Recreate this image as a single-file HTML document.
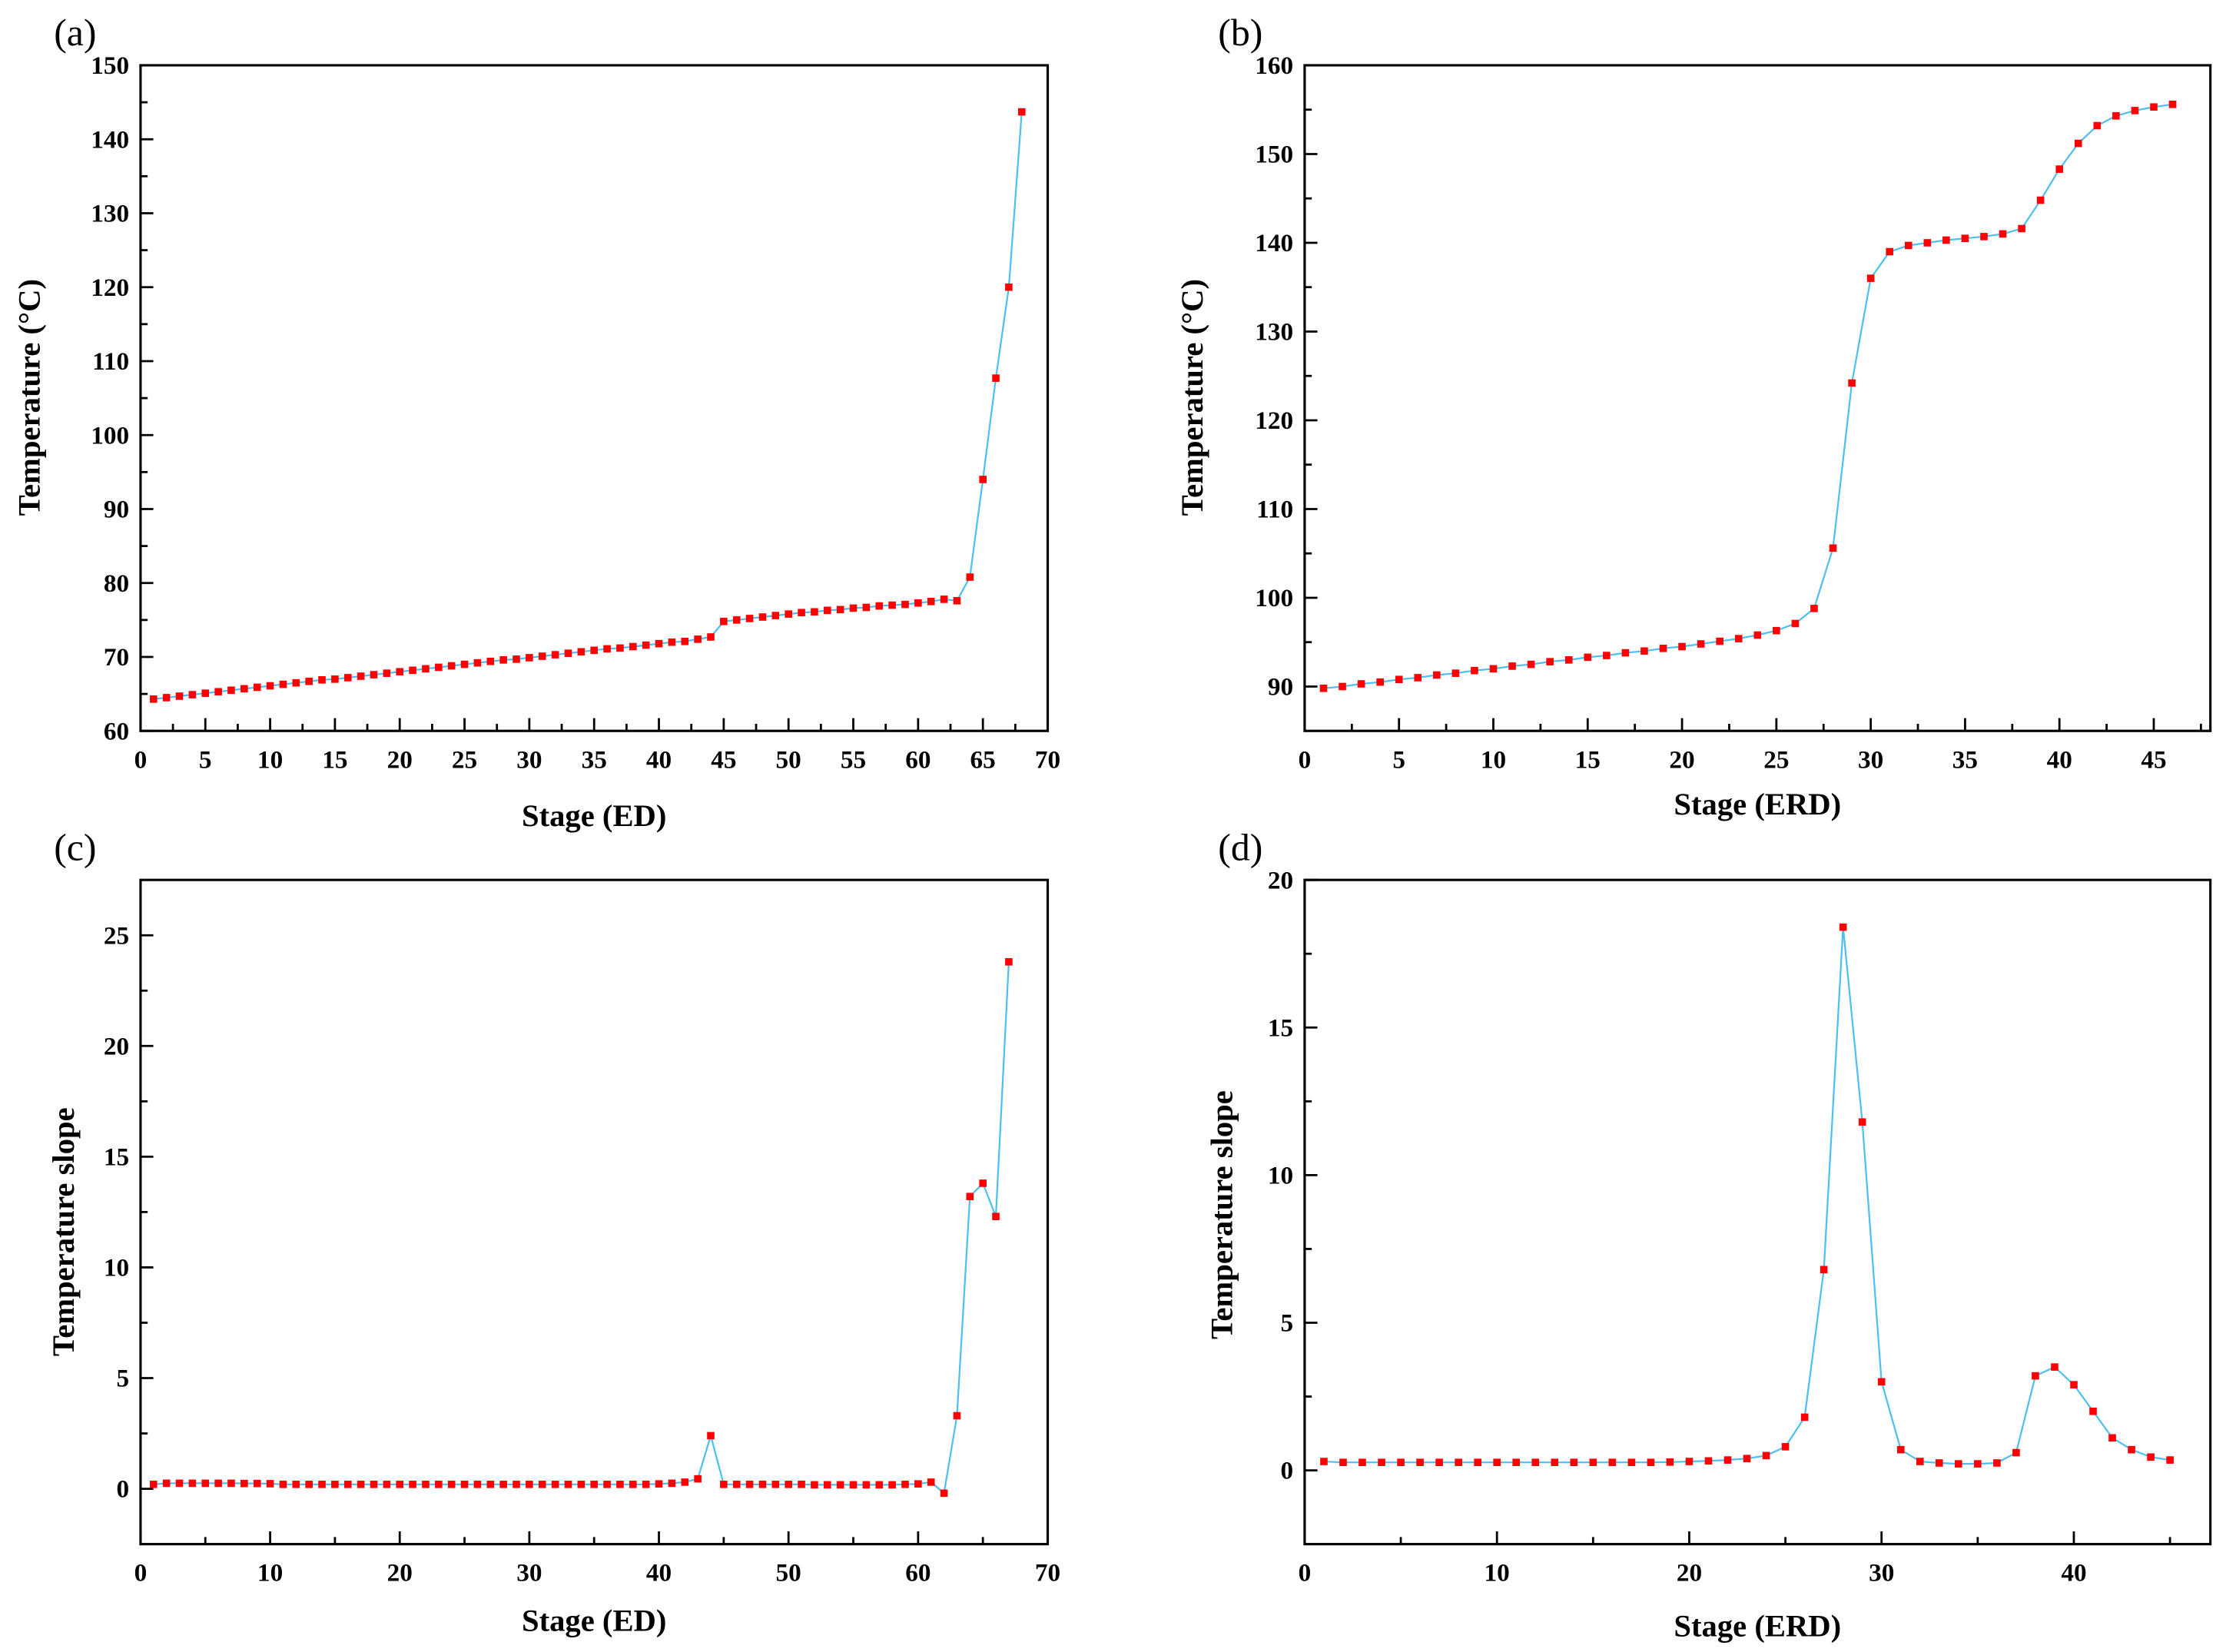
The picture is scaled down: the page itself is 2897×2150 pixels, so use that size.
<!DOCTYPE html>
<html><head><meta charset="utf-8"><style>
html,body{margin:0;padding:0;background:#fff;}
svg{display:block;font-family:"Liberation Serif",serif;}
</style></head><body>
<svg id="fig" width="2897" height="2150" viewBox="0 0 1568 1164" preserveAspectRatio="none" xmlns="http://www.w3.org/2000/svg"></svg>
<script>
const stagesA = Array.from({length:68},(_,i)=>i+1);
const tempA = [64.3,64.5,64.7,64.9,65.1,65.3,65.5,65.7,65.9,66.1,66.3,66.5,66.7,66.9,67.0,67.2,67.4,67.6,67.8,68.0,68.2,68.4,68.6,68.8,69.0,69.2,69.4,69.6,69.7,69.9,70.1,70.3,70.5,70.7,70.9,71.1,71.2,71.4,71.6,71.8,72.0,72.1,72.4,72.7,74.8,75.0,75.2,75.4,75.6,75.8,76.0,76.1,76.3,76.4,76.6,76.7,76.9,77.0,77.1,77.3,77.5,77.8,77.6,80.8,94.0,107.7,120.0,143.7];
const stagesB = Array.from({length:46},(_,i)=>i+1);
const tempB = [89.8,90.0,90.3,90.5,90.8,91.0,91.3,91.5,91.8,92.0,92.3,92.5,92.8,93.0,93.3,93.5,93.8,94.0,94.3,94.5,94.8,95.1,95.4,95.8,96.3,97.1,98.8,105.6,124.2,136.0,139.0,139.7,140.0,140.3,140.5,140.7,141.0,141.6,144.8,148.3,151.2,153.2,154.3,154.9,155.3,155.6];
const stagesC = Array.from({length:67},(_,i)=>i+1);
const slopeC = [0.2,0.25,0.25,0.25,0.25,0.25,0.25,0.24,0.24,0.23,0.2,0.2,0.2,0.2,0.2,0.2,0.2,0.2,0.2,0.2,0.2,0.2,0.2,0.2,0.2,0.2,0.2,0.2,0.2,0.2,0.2,0.2,0.2,0.2,0.2,0.2,0.2,0.2,0.2,0.22,0.25,0.3,0.45,2.4,0.2,0.2,0.2,0.2,0.2,0.2,0.2,0.18,0.18,0.18,0.18,0.18,0.18,0.18,0.2,0.22,0.3,-0.2,3.3,13.2,13.8,12.3,23.8];
const stagesD = Array.from({length:45},(_,i)=>i+1);
const slopeD = [0.3,0.27,0.27,0.27,0.27,0.27,0.27,0.27,0.27,0.27,0.27,0.27,0.27,0.27,0.27,0.27,0.27,0.27,0.28,0.3,0.32,0.35,0.4,0.5,0.8,1.8,6.8,18.4,11.8,3.0,0.7,0.3,0.25,0.22,0.22,0.25,0.6,3.2,3.5,2.9,2.0,1.1,0.7,0.45,0.35];
const ticksA = [0,5,10,15,20,25,30,35,40,45,50,55,60,65,70];
const yTicksA = [60,70,80,90,100,110,120,130,140,150];
const ticksB = [0,5,10,15,20,25,30,35,40,45];
const yTicksB = [90,100,110,120,130,140,150,160];
const ticksC = [0,10,20,30,40,50,60,70];
const yTicksC = [0,5,10,15,20,25];
const ticksD = [0,10,20,30,40];
const yTicksD = [0,5,10,15,20];

const NS="http://www.w3.org/2000/svg";
const svg=document.getElementById('fig');
function mk(tag,attrs,parent){const e=document.createElementNS(NS,tag);for(const k in attrs)e.setAttribute(k,attrs[k]);(parent||svg).appendChild(e);return e;}

function panel(p){
  const g=mk('g',{});
  
  
  const sx=v=>p.x0+(v-p.xmin)/(p.xmax-p.xmin)*(p.x1-p.x0);
  const sy=v=>p.y1-(v-p.ymin)/(p.ymax-p.ymin)*(p.y1-p.y0);
  const box=mk('rect',{x:p.x0,y:p.y0,width:p.x1-p.x0,height:p.y1-p.y0,fill:'none',stroke:'#000','stroke-width':1.7},g);
  
  
  const xs=p.xt[1]-p.xt[0];
  p.xt.forEach((t,i)=>{
    const X=sx(t);
    mk('line',{x1:X,x2:X,y1:p.y1,y2:p.y1-9,stroke:'#000','stroke-width':1.5},g);
    const tx=mk('text',{x:X,y:p.y1+26,'font-size':18,'font-weight':'bold','text-anchor':'middle'},g);
    tx.textContent=t;
    
    
    const m=t+xs/2; if(m<p.xmax){const Xm=sx(m);mk('line',{x1:Xm,x2:Xm,y1:p.y1,y2:p.y1-5,stroke:'#000','stroke-width':1.5},g);}
  });
  const ys=p.yt[1]-p.yt[0];
  p.yt.forEach(t=>{
    const Y=sy(t);
    mk('line',{x1:p.x0,x2:p.x0+9,y1:Y,y2:Y,stroke:'#000','stroke-width':1.5},g);
    const tx=mk('text',{x:p.x0-8,y:Y+6,'font-size':18,'font-weight':'bold','text-anchor':'end'},g);
    tx.textContent=t;
    
    
    [t-ys/2,t+ys/2].forEach(m=>{if(m>p.ymin&&m<p.ymax&&(m===t+ys/2||t===p.yt[0])){const Ym=sy(m);mk('line',{x1:p.x0,x2:p.x0+5,y1:Ym,y2:Ym,stroke:'#000','stroke-width':1.5},g);}});
  });
  const line=mk('polyline',{points:p.xs.map((x,i)=>sx(x)+','+sy(p.ys[i])).join(' '),fill:'none',stroke:'#4dbff0','stroke-width':1.2},g);
  
  
  p.xs.forEach((x,i)=>{
    const r=mk('rect',{x:sx(x)-2.6,y:sy(p.ys[i])-2.6,width:5.2,height:5.2,fill:'#f00'},g);
    
    
  });
  const xl=mk('text',{x:(p.x0+p.x1)/2,y:p.xly,'font-size':22,'font-weight':'bold','text-anchor':'middle'},g);
  xl.textContent=p.xlabel;
  
  
  const yl=mk('text',{x:0,y:0,'font-size':22,'font-weight':'bold','text-anchor':'middle',transform:`translate(${p.ylx},${p.yly}) rotate(-90)`},g);
  yl.textContent=p.ylabel;
  
  
  const pl=mk('text',{x:p.lx,y:p.ly,'font-size':27},g);
  pl.textContent=p.tag;
  
  
}
panel({name:'panel-a',x0:99,x1:738,y0:46,y1:515,xmin:0,xmax:70,ymin:60,ymax:150,xt:ticksA,yt:yTicksA,xs:stagesA,ys:tempA,xlabel:'Stage (ED)',xly:582,ylabel:'Temperature (°C)',ylx:28,yly:280,tag:'(a)',lx:38,ly:32});
panel({name:'panel-b',x0:919,x1:1557,y0:46,y1:515,xmin:0,xmax:48,ymin:85,ymax:160,xt:ticksB,yt:yTicksB,xs:stagesB,ys:tempB,xlabel:'Stage (ERD)',xly:574,ylabel:'Temperature (°C)',ylx:847,yly:280,tag:'(b)',lx:858,ly:32});
panel({name:'panel-c',x0:99,x1:738,y0:620,y1:1088,xmin:0,xmax:70,ymin:-2.5,ymax:27.5,xt:ticksC,yt:yTicksC,xs:stagesC,ys:slopeC,xlabel:'Stage (ED)',xly:1149,ylabel:'Temperature slope',ylx:52,yly:868,tag:'(c)',lx:38,ly:606});
panel({name:'panel-d',x0:919,x1:1557,y0:620,y1:1088,xmin:0,xmax:47.1,ymin:-2.5,ymax:20,xt:ticksD,yt:yTicksD,xs:stagesD,ys:slopeD,xlabel:'Stage (ERD)',xly:1153,ylabel:'Temperature slope',ylx:868,yly:856,tag:'(d)',lx:858,ly:606});
</script>
</body></html>
